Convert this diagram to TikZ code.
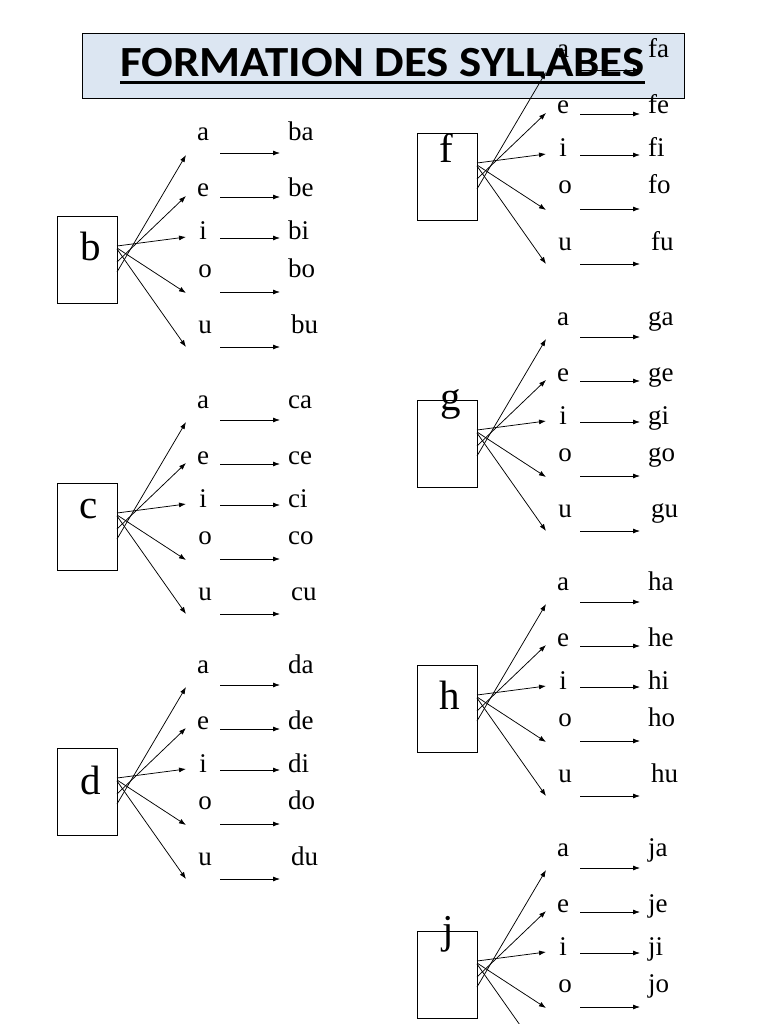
\documentclass[tikz,border=0pt]{standalone}
\usepackage{fontspec}
\setmainfont{Liberation Serif}
\newfontfamily\titlefont{Carlito}
\usetikzlibrary{arrows.meta,calc}
\definecolor{titleblue}{RGB}{220,230,242}
\tikzset{
  cbox/.style={draw=black,line width=1.1pt,minimum width=60pt,minimum height=87pt,inner sep=0pt},
  big/.style={inner sep=0pt,font=\fontsize{41}{41}\selectfont},
  vow/.style={inner sep=0pt,font=\fontsize{27}{27}\selectfont},
  arr/.style={draw=black,line width=0.75pt,-{Latex[length=7pt,width=5pt]}}
}
% #1 consonant, #2 x offset, #3 baseline y, #4 letter dx, #5 letter dy, #6 rows whose texts are shown
\newcommand\sylgroup[6]{%
\begin{scope}[shift={(#2,#3)}]
\node[cbox,anchor=north west] (#1-box) at (57,75) {};
\node[big,anchor=base] (#1-L) at (57+#4,#5) {#1};
\foreach \v/\vx/\vy/\sx in #6 {
  \node[vow,anchor=base] (#1-\v) at (\vx,\vy) {\v};
  \node[vow,anchor=base west] (#1-\v-s) at (\sx,\vy) {#1\v};
}
\foreach \v/\sy/\ey/\hy in {a/131/14/12, e/121/55/56, i/105/96/97, o/107/152/151, u/108/206/206} {
  \coordinate (#1-\v-o) at (117,\sy);
  \coordinate (#1-\v-f) at (186,\ey);
  \coordinate (#1-\v-h1) at (220,\hy);
  \coordinate (#1-\v-h2) at (280,\hy);
  \draw[arr] (#1-\v-o) -- (#1-\v-f);
  \draw[arr] (#1-\v-h1) -- (#1-\v-h2);
}
\end{scope}}
\newcommand\allrows{a/203/0/288, e/203/56/288, i/203/99/288, o/205/136/288, u/205/192/291}
\begin{document}
\begin{tikzpicture}[x=1pt,y=-1pt]
\useasboundingbox (0,0) rectangle (768,1024);
\clip (0,0) rectangle (768,1024);
\fill[white] (0,0) rectangle (768,1024);
\node[draw=black,line width=1pt,fill=titleblue,minimum width=602pt,minimum height=65pt,anchor=north west,inner sep=0pt] (tbox) at (82,33) {};
\node[font=\titlefont\bfseries\fontsize{43}{43}\selectfont,anchor=base,inner sep=0pt] (title) at (382.5,77) {\scalebox{1.092}[1]{FORMATION DES SYLLABES}};
\draw[line width=3pt] ([yshift=-6pt]title.base west) -- ([yshift=-6pt]title.base east);
\sylgroup{b}{0}{141}{34}{119}{\allrows}
\sylgroup{c}{0}{408}{32}{110}{\allrows}
\sylgroup{d}{0}{673}{34}{121}{\allrows}
\sylgroup{f}{360}{58}{29}{105}{\allrows}
\sylgroup{g}{360}{325}{34}{85}{\allrows}
\sylgroup{h}{360}{590}{33}{119}{\allrows}
\sylgroup{j}{360}{856}{31}{87}{{a/203/0/288, e/203/56/288, i/203/99/288, o/205/136/288}}
\end{tikzpicture}
\end{document}
